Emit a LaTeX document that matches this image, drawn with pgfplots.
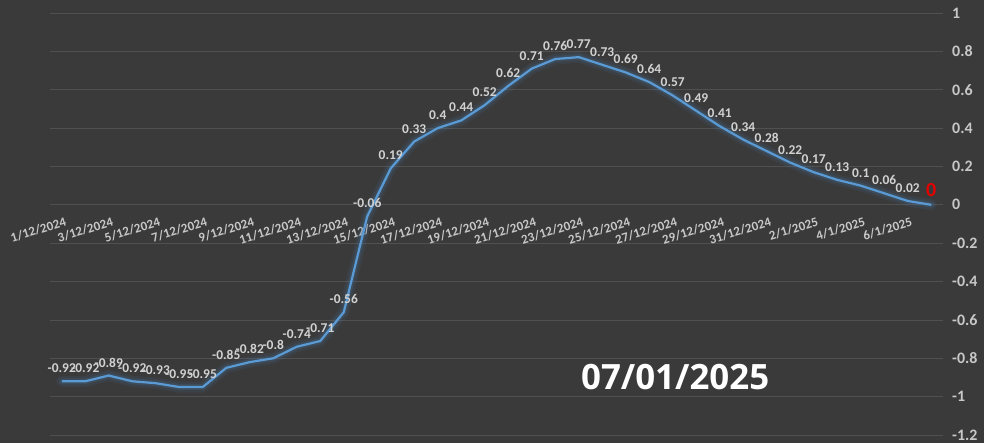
\documentclass[border=0pt]{standalone}
\usepackage{pgfplots}
\pgfplotsset{compat=1.18}
\usepackage{fontspec}
\setmainfont{Carlito}
\newfontfamily\titlefont{Open Sans}
\definecolor{bg}{HTML}{3A3A3A}
\definecolor{gridc}{HTML}{505050}
\definecolor{tickc}{HTML}{C8C8C8}
\definecolor{lblc}{HTML}{D2D2D2}
\definecolor{linec}{HTML}{5B9BD5}
\definecolor{glowc}{HTML}{4A80B8}
\pgfplotstableread{
x y lab
0 -0.92 -0.92
1 -0.92 -0.92
2 -0.89 -0.89
3 -0.92 -0.92
4 -0.93 -0.93
5 -0.95 -0.95
6 -0.95 -0.95
7 -0.85 -0.85
8 -0.82 -0.82
9 -0.8 -0.8
10 -0.74 -0.74
11 -0.71 -0.71
12 -0.56 -0.56
13 -0.06 -0.06
14 0.19 0.19
15 0.33 0.33
16 0.4 0.4
17 0.44 0.44
18 0.52 0.52
19 0.62 0.62
20 0.71 0.71
21 0.76 0.76
22 0.77 0.77
23 0.73 0.73
24 0.69 0.69
25 0.64 0.64
26 0.57 0.57
27 0.49 0.49
28 0.41 0.41
29 0.34 0.34
30 0.28 0.28
31 0.22 0.22
32 0.17 0.17
33 0.13 0.13
34 0.1 0.1
35 0.06 0.06
36 0.02 0.02
37 0 {}
}\datatable
\pgfplotstableread{
x y lab
37 0 0
}\lasttable
\begin{document}
\begin{tikzpicture}
\fill[bg] (0,0) rectangle (984bp,443bp);
\useasboundingbox (0,0) rectangle (984bp,443bp);
\begin{axis}[
  at={(50bp,8bp)}, anchor=south west,
  scale only axis, width=893bp, height=422bp,
  xmin=-0.5, xmax=37.5, ymin=-1.2, ymax=1,
  axis x line*=middle, axis y line*=right,
  axis line style={draw=none},
  major tick length=0pt,
  ymajorgrids, grid style={gridc, line width=0.8pt},
  ytick={-1.2,-1,-0.8,-0.6,-0.4,-0.2,0,0.2,0.4,0.6,0.8,1},
  yticklabels={-1.2,-1,-0.8,-0.6,-0.4,-0.2,0,0.2,0.4,0.6,0.8,1},
  yticklabel style={font=\bfseries\fontsize{16}{18}\selectfont, color=tickc, anchor=west, inner sep=0pt, xshift=9bp},
  xtick={0,2,...,36},
  xticklabels={1/12/2024,3/12/2024,5/12/2024,7/12/2024,9/12/2024,11/12/2024,13/12/2024,15/12/2024,17/12/2024,19/12/2024,21/12/2024,23/12/2024,25/12/2024,27/12/2024,29/12/2024,31/12/2024,2/1/2025,4/1/2025,6/1/2025},
  xticklabel style={font=\bfseries\fontsize{13}{15}\selectfont, color=tickc, rotate=17, anchor=north east, inner sep=0pt, yshift=-12bp, xshift=-1bp},
  clip=false,
]
\addplot[glowc, opacity=0.10, line width=11pt, line join=round, line cap=round] table[x=x,y=y]{\datatable};
\addplot[glowc, opacity=0.18, line width=6pt, line join=round, line cap=round] table[x=x,y=y]{\datatable};
\addplot[linec, line width=2.2pt, line join=round,
  point meta=explicit symbolic,
  nodes near coords,
  every node near coord/.append style={font=\bfseries\fontsize{13.5}{15}\selectfont, color=lblc, yshift=4bp}]
  table[x=x,y=y,meta=lab]{\datatable};
\addplot[draw=none, mark=none,
  point meta=explicit symbolic,
  nodes near coords,
  every node near coord/.append style={font=\bfseries\fontsize{20}{22}\selectfont, color=red!90!black, yshift=5bp}]
  table[x=x,y=y,meta=lab]{\lasttable};
\node[font=\titlefont\bfseries\fontsize{35}{38}\selectfont, color=white] at (axis cs:26.1,-0.9) {07/01/2025};
\end{axis}
\end{tikzpicture}
\end{document}
